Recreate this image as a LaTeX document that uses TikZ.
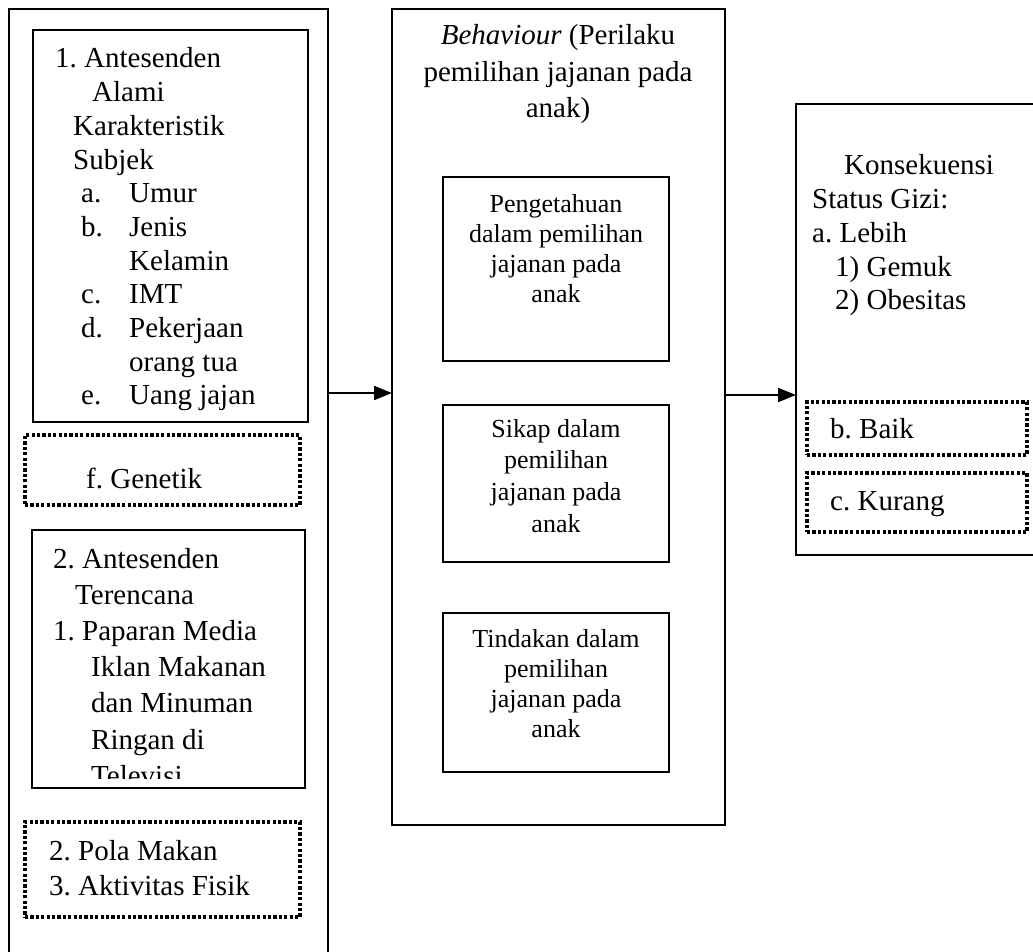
\documentclass[tikz,border=0pt]{standalone}
\usepackage{fontspec}
\setmainfont{Liberation Serif}
\usetikzlibrary{arrows.meta}
\frenchspacing
\newcommand{\LinesL}[1]{\begin{tabular}[t]{@{}l@{}}#1\end{tabular}}
\newcommand{\LinesC}[1]{\begin{tabular}[t]{@{}c@{}}#1\end{tabular}}
\begin{document}
\frenchspacing
\begin{tikzpicture}[x=1pt,y=-1pt,
  frame/.style={inner sep=0pt, outer sep=0pt, anchor=north west},
  solidbox/.style={frame, draw=black, line width=2pt},
  dotbox/.style={frame, draw=black, line width=3.2pt, dash pattern=on 3.2pt off 2.2pt},
  sideline/.style={draw=black, line width=2pt},
  txt/.style={inner sep=0pt, anchor=base west, font=\fontsize{29}{33.7}\selectfont},
  ctxt/.style={inner sep=0pt, anchor=base, font=\fontsize{26}{30.3}\selectfont},
  arr/.style={line width=2pt, -{Triangle[length=18pt,width=14pt]}}]
\fill[white] (0,0) rectangle (1033,952);
\useasboundingbox (0,0) rectangle (1033,952);

% ---------- left column ----------
\node[frame, minimum width=319pt, minimum height=943pt] (left) at (9,9) {};
\draw[sideline] (left.south west) -- (left.north west) -- (left.north east) -- (left.south east);

\node[solidbox, minimum width=275pt, minimum height=392pt] (alami) at (33,30) {};
\node[txt] (talami) at (55,68) {\LinesL{1. Antesenden\\
\hspace{37pt}Alami\\
\hspace{18pt}Karakteristik\\
\hspace{18pt}Subjek\\
\hspace{26pt}\makebox[48pt][l]{a.}Umur\\
\hspace{26pt}\makebox[48pt][l]{b.}Jenis\\
\hspace{74pt}Kelamin\\
\hspace{26pt}\makebox[48pt][l]{c.}IMT\\
\hspace{26pt}\makebox[48pt][l]{d.}Pekerjaan\\
\hspace{74pt}orang tua\\
\hspace{26pt}\makebox[48pt][l]{e.}Uang jajan}};

\node[dotbox, minimum width=275pt, minimum height=70pt] (gen) at (25,435) {};
\node[txt] (tgen) at (86,488) {f. Genetik};

\node[solidbox, minimum width=273pt, minimum height=258pt] (renc) at (32,530) {};
\begin{scope}
  \clip (32,530) rectangle (305,778);
  \node[txt, font=\fontsize{29}{36.2}\selectfont] (trenc) at (53,568) {\LinesL{2. Antesenden\\
  \hspace{22pt}Terencana\\
  1. Paparan Media\\
  \hspace{38pt}Iklan Makanan\\
  \hspace{38pt}dan Minuman\\
  \hspace{38pt}Ringan di\\
  \hspace{38pt}Televisi}};
\end{scope}

\node[dotbox, minimum width=275pt, minimum height=95pt] (pola) at (25,822) {};
\node[txt, font=\fontsize{29}{35}\selectfont] (tpola) at (49,860) {\LinesL{2. Pola Makan\\3. Aktivitas Fisik}};

% ---------- middle column ----------
\node[solidbox, minimum width=333pt, minimum height=816pt] (mid) at (392,9) {};
\node[txt, anchor=base, font=\fontsize{29}{36.5}\selectfont] (tmid) at (558,45)
  {\LinesC{\textit{Behaviour} (Perilaku\\pemilihan jajanan pada\\anak)}};

\node[solidbox, minimum width=226pt, minimum height=184pt] (peng) at (443,177) {};
\node[ctxt] (tpeng) at (556,212) {\LinesC{Pengetahuan\\dalam pemilihan\\jajanan pada\\anak}};

\node[solidbox, minimum width=226pt, minimum height=157pt] (sikap) at (443,405) {};
\node[ctxt, font=\fontsize{26}{31.7}\selectfont] (tsikap) at (556,437) {\LinesC{Sikap dalam\\pemilihan\\jajanan pada\\anak}};

\node[solidbox, minimum width=226pt, minimum height=159pt] (tind) at (443,613) {};
\node[ctxt] (ttind) at (556,647) {\LinesC{Tindakan dalam\\pemilihan\\jajanan pada\\anak}};

% ---------- right column ----------
\node[frame, minimum width=260pt, minimum height=451pt] (cons) at (796,104) {};
\draw[sideline] (cons.north east) -- (cons.north west) -- (cons.south west) -- (cons.south east);
\node[txt, font=\fontsize{29}{33.75}\selectfont] (tcons) at (812,175) {\LinesL{\hspace{32pt}Konsekuensi\\
Status Gizi:\\
a. Lebih\\
\hspace{23pt}1) Gemuk\\
\hspace{23pt}2) Obesitas}};

\node[dotbox, minimum width=220pt, minimum height=53pt] (baik) at (807,402) {};
\node[txt] (tbaik) at (830,438) {b. Baik};
\node[dotbox, minimum width=220pt, minimum height=59pt] (kurang) at (807,473) {};
\node[txt] (tkurang) at (830,510) {c. Kurang};

% ---------- connectors ----------
\coordinate (y1) at (0,393);
\coordinate (y2) at (0,395);
\draw[arr] (left.east |- y1) -- (mid.west |- y1);
\draw[arr] (mid.east |- y2) -- (cons.west |- y2);
\end{tikzpicture}
\end{document}
